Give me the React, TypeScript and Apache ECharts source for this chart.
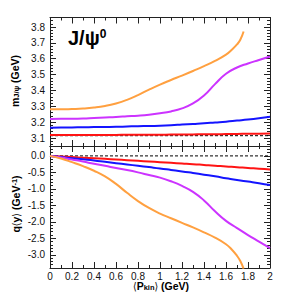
import React, { useEffect, useRef } from "react";
import * as echarts from "echarts";

// ---------- data ----------
const X_FULL = [0, 0.1, 0.2, 0.3, 0.4, 0.5, 0.6, 0.7, 0.8, 0.9, 1.0, 1.1, 1.2, 1.3, 1.4, 1.5, 1.6, 1.7, 1.8, 1.9, 2.0];
const X_ORANGE = [0, 0.1, 0.2, 0.3, 0.4, 0.5, 0.6, 0.7, 0.8, 0.9, 1.0, 1.1, 1.2, 1.3, 1.4, 1.5, 1.6, 1.65, 1.7, 1.73, 1.76];

// top panel: m_{J/psi} (GeV)
const ORANGE_MASS = [3.281, 3.281, 3.283, 3.286, 3.292, 3.302, 3.318, 3.341, 3.371, 3.405, 3.437, 3.466, 3.494, 3.523, 3.553, 3.586, 3.626, 3.655, 3.69, 3.72, 3.772];
const MAGENTA_MASS = [3.22, 3.221, 3.222, 3.224, 3.227, 3.23, 3.233, 3.237, 3.241, 3.247, 3.256, 3.268, 3.287, 3.318, 3.368, 3.44, 3.505, 3.545, 3.57, 3.592, 3.614];
const BLUE_MASS = [3.165, 3.166, 3.167, 3.168, 3.169, 3.17, 3.171, 3.173, 3.175, 3.176, 3.178, 3.181, 3.185, 3.189, 3.193, 3.198, 3.203, 3.21, 3.217, 3.225, 3.234];
const RED_MASS = [3.119, 3.119, 3.119, 3.12, 3.12, 3.12, 3.12, 3.121, 3.121, 3.121, 3.121, 3.122, 3.122, 3.123, 3.124, 3.124, 3.125, 3.126, 3.127, 3.128, 3.129];
const MASS_REF = 3.115;

// bottom panel: q<y> (GeV^-1)
const ORANGE_Q = [0, -0.08, -0.19, -0.31, -0.45, -0.62, -0.85, -1.12, -1.37, -1.58, -1.75, -1.89, -2.03, -2.17, -2.32, -2.48, -2.68, -2.83, -3.03, -3.19, -3.42];
const MAGENTA_Q = [0, -0.05, -0.11, -0.17, -0.24, -0.3, -0.37, -0.43, -0.5, -0.58, -0.66, -0.77, -0.91, -1.09, -1.35, -1.68, -1.97, -2.19, -2.4, -2.6, -2.8];
const BLUE_Q = [0, -0.035, -0.07, -0.105, -0.14, -0.18, -0.22, -0.26, -0.3, -0.34, -0.38, -0.425, -0.47, -0.52, -0.57, -0.62, -0.675, -0.73, -0.78, -0.83, -0.885];
const RED_Q = [0, -0.018, -0.036, -0.054, -0.072, -0.09, -0.11, -0.13, -0.15, -0.17, -0.19, -0.21, -0.23, -0.25, -0.275, -0.3, -0.32, -0.345, -0.365, -0.39, -0.41];
const Q_REF = 0;

const X_MIN = 0;
const X_MAX = 2;
const X_STEP = 0.2;
const MASS_MIN = 3.05;
const MASS_MAX = 3.86;
const MASS_STEP = 0.1;
const Q_MIN = -3.4;
const Q_MAX = 0.3;
const Q_STEP = 0.5;

// ---------- styles ----------
const FONT = "'Liberation Sans', Arial, Helvetica, sans-serif";
const AX = "#222";
const C_ORANGE = "#ffa040";
const C_MAGENTA = "#cc33ff";
const C_BLUE = "#1414ff";
const C_RED = "#ff1414";

const pts = (xs: number[], ys: number[]) => xs.map((x, i) => [x, ys[i]]);

const axisLine = { show: true, onZero: false, lineStyle: { color: AX, width: 1 } };

function xAxis(gridIndex: number, position: string, showLabel: boolean) {
  return {
    type: "value",
    gridIndex,
    position,
    min: X_MIN,
    max: X_MAX,
    interval: X_STEP,
    axisLine,
    axisTick: { show: true, inside: true, length: 6, lineStyle: { color: AX } },
    minorTick: { show: true, splitNumber: 2, length: 3, lineStyle: { color: AX } },
    splitLine: { show: false },
    minorSplitLine: { show: false },
    axisLabel: {
      show: showLabel,
      fontFamily: FONT,
      fontSize: 10,
      color: "#111",
      margin: 3,
      formatter: (v: number) => String(Math.round(v * 10) / 10),
    },
  };
}

function yAxis(gridIndex: number, position: string, showLabel: boolean, min: number, max: number, step: number, minorSplit: number) {
  return {
    type: "value",
    gridIndex,
    position,
    min,
    max,
    minInterval: step,
    maxInterval: step,
    splitNumber: Math.round((max - min) / step),
    axisLine,
    axisTick: { show: true, inside: true, length: 6, lineStyle: { color: AX } },
    minorTick: { show: true, splitNumber: minorSplit, length: 3, lineStyle: { color: AX } },
    splitLine: { show: false },
    minorSplitLine: { show: false },
    axisLabel: {
      show: showLabel,
      showMinLabel: false,
      showMaxLabel: false,
      fontFamily: FONT,
      fontSize: 10,
      color: "#111",
      margin: 5,
      formatter: (v: number) => (Math.round(v * 10) / 10).toFixed(1),
    },
  };
}

function line(name: string, data: number[][], color: string, xi: number, yi: number) {
  return {
    name,
    type: "line",
    xAxisIndex: xi,
    yAxisIndex: yi,
    data,
    showSymbol: false,
    smooth: 0.5,
    lineStyle: { color, width: 2 },
    itemStyle: { color },
    silent: true,
  };
}

function refLine(y: number, xi: number, yi: number) {
  return {
    type: "line",
    xAxisIndex: xi,
    yAxisIndex: yi,
    data: [[X_MIN, y], [X_MAX, y]],
    showSymbol: false,
    lineStyle: { color: "#000", width: 1, type: [3, 2] },
    silent: true,
  };
}

const FS = 10.5;
const titleRich = {
  b: { fontFamily: FONT, fontSize: FS, fontWeight: "bold", color: "#000", verticalAlign: "middle" },
  br: { fontFamily: "'DejaVu Sans Condensed', 'DejaVu Sans', sans-serif", fontSize: FS, fontWeight: "normal", color: "#000", verticalAlign: "middle" },
  sub: { fontFamily: FONT, fontSize: 7.5, fontWeight: "bold", color: "#000", verticalAlign: "bottom" },
  sup: { fontFamily: FONT, fontSize: 7.5, fontWeight: "bold", color: "#000", verticalAlign: "top" },
};

export default function App() {
  const ref = useRef<HTMLDivElement>(null);
  useEffect(() => {
    if (!ref.current) return;
    const chart = echarts.init(ref.current, null, { renderer: "svg" });
    const option = {
      animation: false,
      backgroundColor: "#fff",
      grid: [
        { left: 50, top: 17.5, width: 220, height: 128.5 },
        { left: 50, top: 146, width: 220, height: 122 },
      ],
      xAxis: [
        xAxis(0, "bottom", false),
        xAxis(0, "top", false),
        xAxis(1, "bottom", true),
        xAxis(1, "top", false),
      ],
      yAxis: [
        yAxis(0, "left", true, MASS_MIN, MASS_MAX, MASS_STEP, 5),
        yAxis(0, "right", false, MASS_MIN, MASS_MAX, MASS_STEP, 5),
        yAxis(1, "left", true, Q_MIN, Q_MAX, Q_STEP, 5),
        yAxis(1, "right", false, Q_MIN, Q_MAX, Q_STEP, 5),
      ],
      series: [
        refLine(MASS_REF, 0, 0),
        line("red", pts(X_FULL, RED_MASS), C_RED, 0, 0),
        line("blue", pts(X_FULL, BLUE_MASS), C_BLUE, 0, 0),
        line("magenta", pts(X_FULL, MAGENTA_MASS), C_MAGENTA, 0, 0),
        line("orange", pts(X_ORANGE, ORANGE_MASS), C_ORANGE, 0, 0),
        refLine(Q_REF, 2, 2),
        line("red", pts(X_FULL, RED_Q), C_RED, 2, 2),
        line("blue", pts(X_FULL, BLUE_Q), C_BLUE, 2, 2),
        line("magenta", pts(X_FULL, MAGENTA_Q), C_MAGENTA, 2, 2),
        line("orange", pts(X_ORANGE, ORANGE_Q), C_ORANGE, 2, 2),
      ],
      graphic: [
        {
          type: "text",
          x: 68,
          y: 28,
          silent: true,
          style: {
            text: "{a|J/ψ}{s|0}",
            rich: {
              a: { fontFamily: FONT, fontSize: 20, fontWeight: "bold", color: "#000", verticalAlign: "bottom" },
              s: { fontFamily: FONT, fontSize: 12, fontWeight: "bold", color: "#000", verticalAlign: "top" },
            },
          },
        },
        {
          type: "text",
          x: 15,
          y: 81,
          rotation: Math.PI / 2,
          silent: true,
          style: {
            text: "{b|m}{sub|J/ψ}{b| (GeV)}",
            rich: titleRich,
            align: "center",
            verticalAlign: "middle",
          },
        },
        {
          type: "text",
          x: 16,
          y: 204,
          rotation: Math.PI / 2,
          silent: true,
          style: {
            text: "{b|q}{br|⟨}{b|y}{br|⟩}{b| (GeV}{sup|-1}{b|)}",
            rich: titleRich,
            align: "center",
            verticalAlign: "middle",
          },
        },
        {
          type: "text",
          x: 161,
          y: 286,
          silent: true,
          style: {
            text: "{br|⟨}{b|P}{sub|kin}{br|⟩}{b| (GeV)}",
            rich: titleRich,
            align: "center",
            verticalAlign: "middle",
          },
        },
      ],
    };
    chart.setOption(option as any);
    return () => chart.dispose();
  }, []);
  return (
    <div
      ref={ref}
      style={{ position: "fixed", left: 0, top: 0, width: 303, height: 294, background: "#fff" }}
    />
  );
}
